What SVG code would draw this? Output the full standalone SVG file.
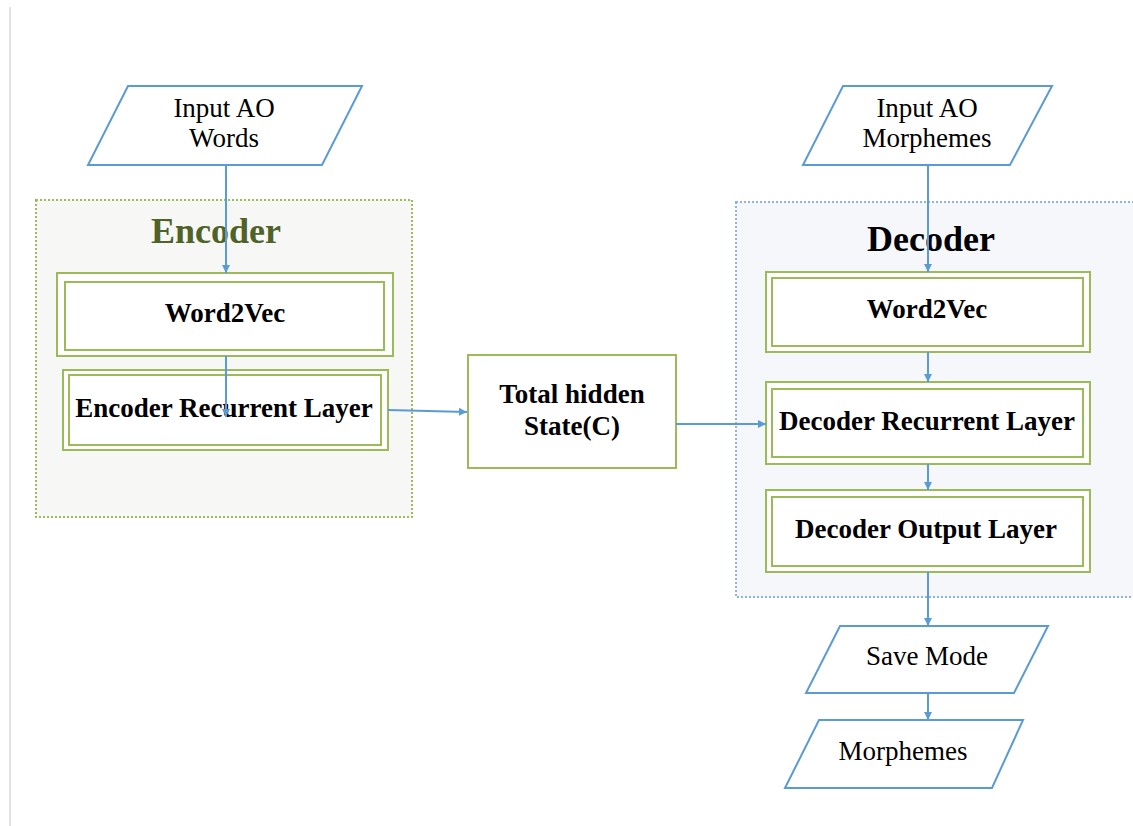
<svg xmlns="http://www.w3.org/2000/svg" width="1133" height="826" viewBox="0 0 1133 826">
<defs>
<marker id="arr" viewBox="0 0 10 10" refX="10" refY="5" markerWidth="8" markerHeight="8" markerUnits="userSpaceOnUse" orient="auto">
<path d="M0,0 L10,5 L0,10 z" fill="#5b9bd5"/>
</marker>
<style>
.para{fill:#fff;stroke:#5b9bd5;stroke-width:2}
.box{fill:#fff;stroke:#9bbb59;stroke-width:2}
.lbl{font-family:"Liberation Serif","Times New Roman",serif;font-size:27px;fill:#000;text-anchor:middle}
.b{font-weight:bold}
.title{font-family:"Liberation Serif","Times New Roman",serif;font-size:36px;font-weight:bold;text-anchor:middle}
.con{stroke:#5b9bd5;stroke-width:2;fill:none;marker-end:url(#arr)}
</style>
</defs>
<rect x="0" y="0" width="1133" height="826" fill="#fff"/>
<line x1="10" y1="7" x2="10" y2="826" stroke="#e2e2e2" stroke-width="2"/>

<g id="encoder">
<rect x="36" y="200" width="376" height="317" fill="#f7f7f5" stroke="#9bbb59" stroke-width="2" stroke-dasharray="2,2"/>
<text class="title" x="216" y="243" fill="#4f6228">Encoder</text>
</g>
<g id="decoder">
<rect x="736" y="202" width="410" height="395" fill="#f5f7fa" stroke="#8fb4dc" stroke-width="2" stroke-dasharray="2,2"/>
<text class="title" x="931" y="251" fill="#000">Decoder</text>
</g>

<g id="input-words">
<polygon class="para" points="128,86 362,86 322,165 88,165"/>
<text class="lbl" x="224" y="117">Input AO</text>
<text class="lbl" x="224" y="147">Words</text>
</g>
<g id="enc-word2vec">
<rect class="box" x="57" y="273" width="336" height="83"/>
<rect class="box" x="65" y="282" width="319" height="68"/>
<text class="lbl b" x="225" y="322">Word2Vec</text>
</g>
<g id="enc-recurrent">
<rect class="box" x="63" y="370" width="325" height="80"/>
<rect class="box" x="69" y="375" width="312" height="70"/>
<text class="lbl b" x="224" y="417">Encoder Recurrent Layer</text>
</g>
<g id="hidden-state">
<rect class="box" x="468" y="355" width="208" height="113"/>
<text class="lbl b" x="572" y="403">Total hidden</text>
<text class="lbl b" x="572" y="435">State(C)</text>
</g>
<g id="input-morphemes">
<polygon class="para" points="843,86 1052,86 1010,165 803,165"/>
<text class="lbl" x="927" y="117">Input AO</text>
<text class="lbl" x="927" y="147">Morphemes</text>
</g>
<g id="dec-word2vec">
<rect class="box" x="766" y="272" width="324" height="80"/>
<rect class="box" x="772" y="278" width="311" height="68"/>
<text class="lbl b" x="927" y="318">Word2Vec</text>
</g>
<g id="dec-recurrent">
<rect class="box" x="766" y="382" width="324" height="82"/>
<rect class="box" x="772" y="389" width="311" height="68"/>
<text class="lbl b" x="927" y="430">Decoder Recurrent Layer</text>
</g>
<g id="dec-output">
<rect class="box" x="766" y="490" width="324" height="82"/>
<rect class="box" x="772" y="497" width="311" height="69"/>
<text class="lbl b" x="926" y="538">Decoder Output Layer</text>
</g>
<g id="save-mode">
<polygon class="para" points="840,626 1048,626 1014,693 806,693"/>
<text class="lbl" x="927" y="665">Save Mode</text>
</g>
<g id="morphemes">
<polygon class="para" points="819,720 1023,720 992,788 785,788"/>
<text class="lbl" x="903" y="760">Morphemes</text>
</g>

<g id="connectors">
<line class="con" x1="226" y1="165" x2="226" y2="273"/>
<line class="con" x1="226" y1="356" x2="226" y2="417"/>
<line class="con" x1="388" y1="410" x2="467" y2="412"/>
<line class="con" x1="676" y1="424" x2="766" y2="424"/>
<line class="con" x1="928" y1="165" x2="928" y2="272"/>
<line class="con" x1="928" y1="352" x2="928" y2="382"/>
<line class="con" x1="928" y1="464" x2="928" y2="490"/>
<line class="con" x1="928" y1="572" x2="928" y2="626"/>
<line class="con" x1="928" y1="693" x2="928" y2="720"/>
</g>
</svg>
